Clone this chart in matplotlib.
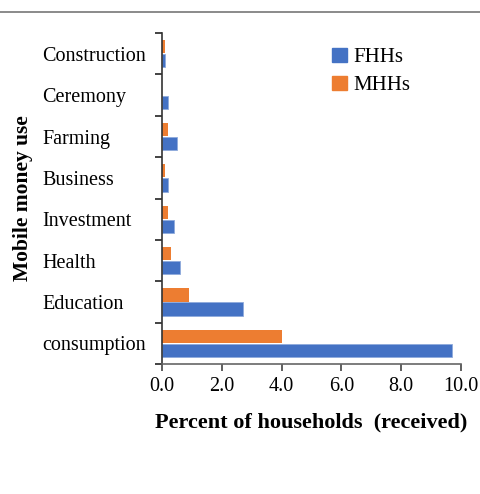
import matplotlib.pyplot as plt
import numpy as np
from matplotlib.lines import Line2D
from matplotlib.patches import Patch

# categories listed top to bottom
categories = ['Construction', 'Ceremony', 'Farming', 'Business',
              'Investment', 'Health', 'Education', 'consumption']
fhh_values = [0.1, 0.2, 0.5, 0.2, 0.4, 0.6, 2.7, 9.7]
mhh_values = [0.1, 0.0, 0.2, 0.1, 0.2, 0.3, 0.9, 4.0]
x_ticks = [0, 2, 4, 6, 8, 10]

BLUE = '#4472C4'
ORANGE = '#ED7D31'

plt.rcParams['font.family'] = ['Liberation Serif', 'DejaVu Serif']

fig = plt.figure(figsize=(4.8, 4.94), dpi=100)
ax = fig.add_axes([0.3375, 0.263, 0.623, 0.670])

y = np.arange(len(categories))
h = 0.32
ax.barh(y - 0.17, mhh_values, height=h, color=ORANGE, label='MHHs', zorder=2)
ax.barh(y + 0.17, fhh_values, height=h, color=BLUE, edgecolor='#8FAADC',
        linewidth=0.6, label='FHHs', zorder=2)

ax.set_xlim(0, 10)
ax.set_ylim(len(categories) - 0.5, -0.5)

# ticks at category boundaries, labels at centres
ax.set_yticks(np.arange(-0.5, len(categories), 1.0))
ax.set_yticklabels([])
ax.set_yticks(y, minor=True)
ax.set_yticklabels(categories, minor=True, ha='left', fontsize=14.5)
ax.tick_params(axis='y', which='major', direction='out', length=5, width=1.2, color='#222222')
ax.tick_params(axis='y', which='minor', length=0, pad=86)

ax.set_xticks(x_ticks)
ax.set_xticklabels([f'{v:.1f}' for v in x_ticks], fontsize=14.5)
ax.tick_params(axis='x', direction='out', length=5, width=1.2, color='#444444', pad=4)

for s in ['top', 'right']:
    ax.spines[s].set_visible(False)
ax.spines['left'].set_color('#333333')
ax.spines['left'].set_linewidth(1.2)
ax.spines['bottom'].set_color('#666666')
ax.spines['bottom'].set_linewidth(1.2)

ax.set_xlabel('Percent of households  (received)', fontsize=16, fontweight='bold', labelpad=12)
ax.set_ylabel('Mobile money use', fontsize=15.5, fontweight='bold')
ax.yaxis.set_label_coords(-0.43, 0.5)

handles = [Patch(color=BLUE), Patch(color=ORANGE)]
ax.legend(handles, ['FHHs', 'MHHs'], loc='upper left', bbox_to_anchor=(0.52, 1.0),
          frameon=False, fontsize=15, handlelength=0.7, handleheight=0.7,
          handletextpad=0.3, labelspacing=0.4, borderaxespad=0.3)

# thin rule across the top of the figure
fig.add_artist(Line2D([0, 1], [1 - 12 / 494, 1 - 12 / 494], color='#777777', linewidth=1.2))

fig.savefig('out.png', dpi=100)
